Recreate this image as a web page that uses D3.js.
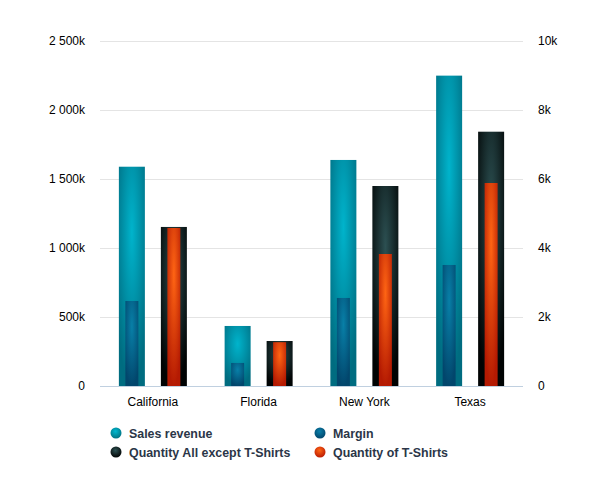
<!DOCTYPE html>
<html><head><meta charset="utf-8">
<script src="https://cdn.jsdelivr.net/npm/d3@7"></script>
<style>body{margin:0;background:#fff}svg{display:block}</style>
</head><body>
<svg id="c" width="594" height="484"></svg>
<script>
const categories = ["California", "Florida", "New York", "Texas"];
const salesRevenue = [1589000, 435000, 1638000, 2249000];
const margin = [616000, 167000, 638000, 877000];
const qtyAllExcept = [4610, 1304, 5797, 7371];
const qtyTShirts = [4580, 1270, 3826, 5884];
const leftTicks = [0, 500000, 1000000, 1500000, 2000000, 2500000];
const rightTicks = [0, 2000, 4000, 6000, 8000, 10000];
const seriesNames = ["Sales revenue", "Margin", "Quantity All except T-Shirts", "Quantity of T-Shirts"];

const svg = d3.select("#c");
const L = 100, R = 523, T = 41, B = 386;
const x = d3.scaleBand().domain(categories).range([L, R]).padding(0);
const yL = d3.scaleLinear().domain([0, 2500000]).range([B, T]);
const yR = d3.scaleLinear().domain([0, 10000]).range([B, T]);

const defs = svg.append("defs");
function grad(id, inner, outer) {
  const g = defs.append("radialGradient").attr("id", id)
    .attr("cx", "50%").attr("cy", "30%").attr("r", "70%");
  g.append("stop").attr("offset", "0%").attr("stop-color", inner);
  g.append("stop").attr("offset", "100%").attr("stop-color", outer);
}
grad("gSales", "#00b4cc", "#006c80");
grad("gMargin", "#0880a8", "#02466c");
grad("gQty", "#2c5052", "#000303");
grad("gTee", "#ff6514", "#b41a02");

// grid
svg.append("g").selectAll("line").data(leftTicks.filter(d => d > 0)).join("line")
  .attr("x1", L).attr("x2", R).attr("y1", d => yL(d) + 0.5).attr("y2", d => yL(d) + 0.5)
  .attr("stroke", "#e4e4e4").attr("stroke-width", 1);

const fmtL = d => d === 0 ? "0" : d3.format(",")(d / 1000).replace(/,/g, " ") + "k";
const fmtR = d => d === 0 ? "0" : (d / 1000) + "k";

svg.append("g").selectAll("text").data(leftTicks).join("text")
  .attr("x", 85).attr("y", d => yL(d) + 4).attr("text-anchor", "end")
  .attr("font-family", "Liberation Sans, Arial, sans-serif").attr("font-size", 12).attr("fill", "#000")
  .text(fmtL);
svg.append("g").selectAll("text").data(rightTicks).join("text")
  .attr("x", 538).attr("y", d => yR(d) + 4).attr("text-anchor", "start")
  .attr("font-family", "Liberation Sans, Arial, sans-serif").attr("font-size", 12).attr("fill", "#000")
  .text(fmtR);

const bw = 26, off = 21;
const cx = c => x(c) + x.bandwidth() / 2;
function bars(data, scale, w, dx, fill) {
  svg.append("g").selectAll("rect").data(data).join("rect")
    .attr("x", (d, i) => cx(categories[i]) + dx - w / 2)
    .attr("width", w)
    .attr("y", d => scale(d))
    .attr("height", d => B - scale(d))
    .attr("fill", fill);
}
bars(salesRevenue, yL, bw, -off, "url(#gSales)");
bars(margin, yL, bw / 2, -off, "url(#gMargin)");
bars(qtyAllExcept, yR, bw, off, "url(#gQty)");
bars(qtyTShirts, yR, bw / 2, off, "url(#gTee)");

// baseline
svg.append("line").attr("x1", L).attr("x2", R).attr("y1", B + 0.5).attr("y2", B + 0.5)
  .attr("stroke", "#c0d0e0").attr("stroke-width", 1);

svg.append("g").selectAll("text").data(categories).join("text")
  .attr("x", d => cx(d)).attr("y", 406).attr("text-anchor", "middle")
  .attr("font-family", "Liberation Sans, Arial, sans-serif").attr("font-size", 12).attr("fill", "#000")
  .text(d => d);

// legend
const legFills = ["url(#gSalesL)", "url(#gMarginL)", "url(#gQtyL)", "url(#gTeeL)"];
function lgrad(id, inner, outer) {
  const g = defs.append("radialGradient").attr("id", id)
    .attr("cx", "45%").attr("cy", "35%").attr("r", "60%");
  g.append("stop").attr("offset", "0%").attr("stop-color", inner);
  g.append("stop").attr("offset", "100%").attr("stop-color", outer);
}
lgrad("gSalesL", "#00b8d0", "#007888");
lgrad("gMarginL", "#0a80aa", "#024a70");
lgrad("gQtyL", "#2c5052", "#050a0a");
lgrad("gTeeL", "#ff6514", "#c02004");
const legPos = [[116, 433], [320, 433], [116, 452], [320, 452]];
const lg = svg.append("g").selectAll("g").data(seriesNames).join("g")
  .attr("transform", (d, i) => `translate(${legPos[i][0]},${legPos[i][1]})`);
lg.append("circle").attr("r", 5.5).attr("fill", (d, i) => legFills[i]);
lg.append("text").attr("x", 13).attr("y", 4.5)
  .attr("font-family", "Liberation Sans, Arial, sans-serif").attr("font-size", 12.4).attr("font-weight", "bold")
  .attr("fill", "#2b3648").text(d => d);
</script>
</body></html>
